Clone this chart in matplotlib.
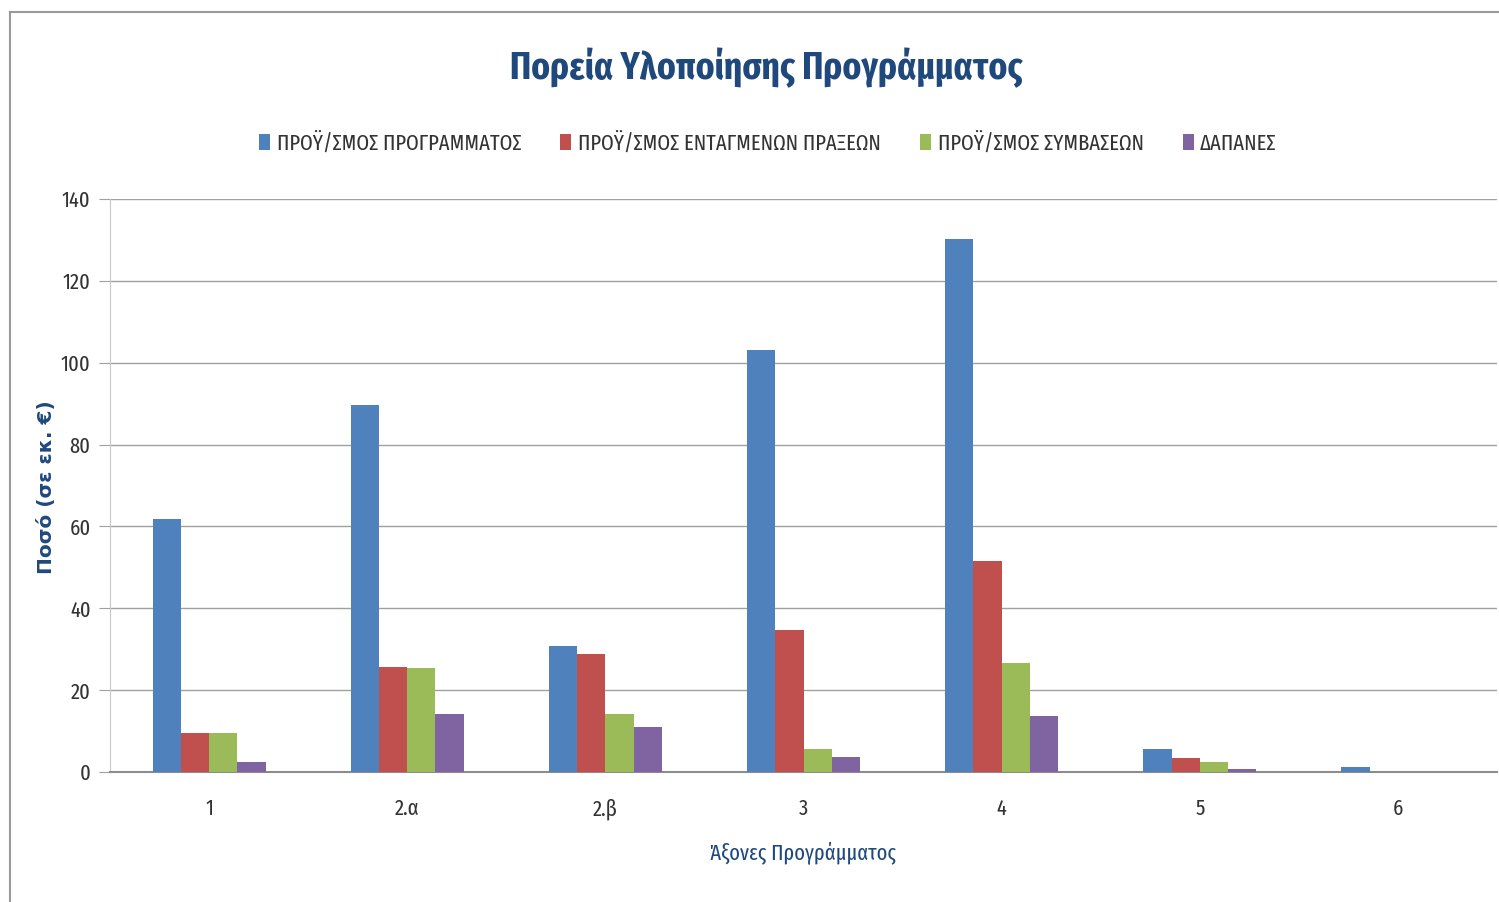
import matplotlib
matplotlib.use("Agg")
import matplotlib.pyplot as plt
from matplotlib.lines import Line2D
import numpy as np

categories = ["1", "2.α", "2.β", "3", "4", "5", "6"]
series_names = ["ΠΡΟΫ/ΣΜΟΣ ΠΡΟΓΡΑΜΜΑΤΟΣ", "ΠΡΟΫ/ΣΜΟΣ ΕΝΤΑΓΜΕΝΩΝ ΠΡΑΞΕΩΝ",
                "ΠΡΟΫ/ΣΜΟΣ ΣΥΜΒΑΣΕΩΝ", "ΔΑΠΑΝΕΣ"]
programme = [61.8, 89.7, 30.8, 103.1, 130.2, 5.6, 1.2]
integrated = [9.5, 25.6, 28.8, 34.7, 51.6, 3.4, 0.0]
contracts = [9.5, 25.4, 14.2, 5.6, 26.6, 2.4, 0.0]
expenses = [2.4, 14.2, 11.0, 3.7, 13.7, 0.7, 0.0]
yticks = [0, 20, 40, 60, 80, 100, 120, 140]

colors = ["#4F81BD", "#C0504D", "#9BBB59", "#8064A2"]
navy = "#1F497D"
FAM = ["Fira Sans Extra Condensed", "DejaVu Sans Condensed", "DejaVu Sans"]
plt.rcParams['font.family'] = FAM

fig = plt.figure(figsize=(14.99, 9.02), dpi=100)
W, H = 1499, 902
ax = fig.add_axes([110 / W, 1 - 772 / H, (1497 - 110) / W, (772 - 199) / H])

x = np.arange(len(categories))
bw = 0.1425
data = [programme, integrated, contracts, expenses]
for i, (vals, c, name) in enumerate(zip(data, colors, series_names)):
    ax.bar(x + (i - 1.5) * bw, vals, bw, color=c, label=name, zorder=3)

ax.set_xlim(-0.5, 6.5)
ax.set_ylim(0, 140)
ax.set_yticks(yticks)
ax.set_xticks(x)
ax.set_xticklabels(categories)
ax.yaxis.grid(True, color="#a0a0a0", linewidth=1.0, zorder=0)
for s in ["top", "right"]:
    ax.spines[s].set_visible(False)
ax.spines["left"].set_color("#c8c8c8")
ax.spines["bottom"].set_color("#8c8c8c")
ax.spines["bottom"].set_linewidth(1.5)
ax.tick_params(axis="y", direction="out", length=8, color="#a0a0a0", labelsize=16, pad=6, labelcolor="#333333")
ax.tick_params(axis="x", length=0, labelsize=16, pad=19, labelcolor="#333333")

fig.text(47 / W, 1 - 487 / H, "Ποσό (σε εκ. €)", rotation=90, ha="center", va="center",
         color=navy, fontsize=14.5, fontweight="bold", family=["DejaVu Sans"])
fig.text(803 / W, 1 - 853 / H, "Άξονες Προγράμματος", ha="center", va="center",
         color=navy, fontsize=16)

fig.text(766 / W, 1 - 68 / H, "Πορεία Υλοποίησης Προγράμματος", ha="center", va="center",
         fontsize=27.7, fontweight="bold", color=navy)

leg = fig.legend(loc="center", bbox_to_anchor=(768 / W, 1 - 143 / H), ncol=4, frameon=False,
                 fontsize=16, handlelength=0.5, handleheight=0.7, handletextpad=0.3,
                 columnspacing=1.75)
for t in leg.get_texts():
    t.set_color("#333333")

fig.add_artist(Line2D([10 / W, 1], [1 - 12 / H, 1 - 12 / H], color="#9a9a9a", linewidth=1.5,
                      transform=fig.transFigure))
fig.add_artist(Line2D([10 / W, 10 / W], [0, 1 - 12 / H], color="#9a9a9a", linewidth=1.5,
                      transform=fig.transFigure))

fig.savefig("out.png", dpi=100)
